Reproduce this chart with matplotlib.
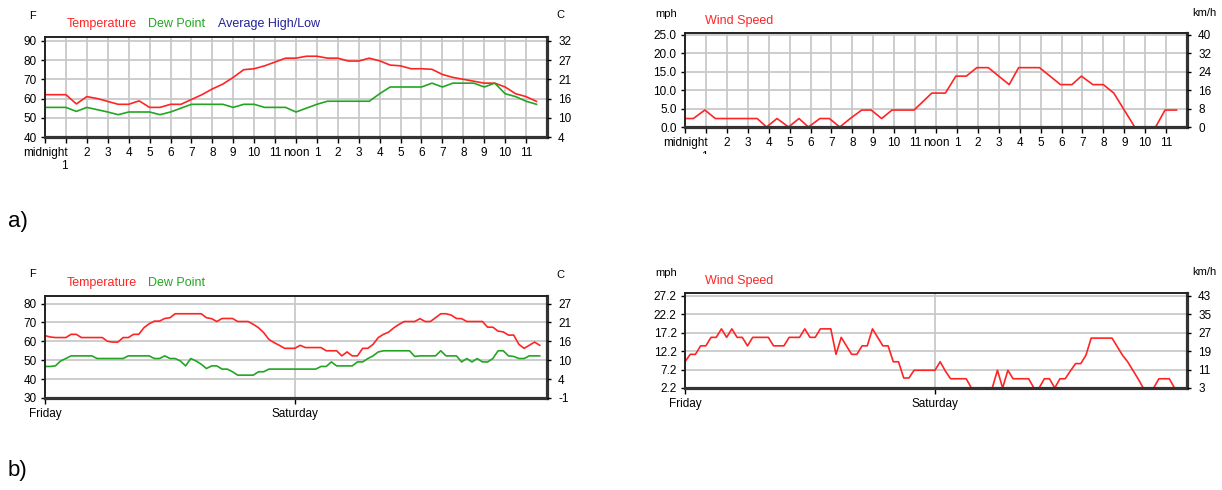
import numpy as np
import matplotlib
matplotlib.use("Agg")
import matplotlib.pyplot as plt
from matplotlib.transforms import Bbox

# ---- data ----
# a) one day, hours since midnight
a_hours = [0, 0.5, 1, 1.5, 2, 2.5, 3, 3.5, 4, 4.5, 5, 5.5, 6, 6.5, 7, 7.5,
           8, 8.5, 9, 9.5, 10, 10.5, 11, 11.5, 12, 12.5, 13, 13.5, 14, 14.5,
           15, 15.5, 16, 16.5, 17, 17.5, 18, 18.5, 19, 19.5, 20, 20.5, 21,
           21.5, 22, 22.5, 23, 23.5]
a_temp = [62, 62, 62, 57.2, 61, 60, 58.5, 57, 57, 58.8, 55.4, 55.4, 57, 57,
          59.5, 62, 65, 67.5, 71, 75, 75.5, 77, 79, 81, 81, 82, 82, 81, 81,
          79.5, 79.5, 81, 79.6, 77.4, 77, 75.5, 75.5, 75.2, 72.5, 71, 70, 69,
          68, 68, 66, 62.5, 61, 58.5]
a_dew = [55.4, 55.4, 55.4, 53.3, 55.4, 54.2, 53, 51.6, 53, 53, 53, 51.6, 53,
         55, 57, 57, 57, 57, 55.4, 57, 57, 55.4, 55.4, 55.4, 53, 55, 57, 58.6,
         58.6, 58.6, 58.6, 58.6, 62.5, 66, 66, 66, 66, 68, 66, 68, 68, 68, 66,
         68, 62.5, 61, 58.6, 57]

a_wind_hours = [0, 0.4, 0.95, 1.45, 3.45, 3.9, 4.4, 4.95, 5.45, 5.9, 6.45,
                6.9, 7.4, 7.9, 8.45, 8.9, 9.4, 9.9, 10.95, 11.8, 12.45, 12.95,
                13.45, 13.95, 14.5, 15.5, 15.95, 16.95, 17.95, 18.5, 18.95,
                19.5, 20, 20.5, 21, 21.5, 22.5, 22.95, 23.5]
a_wind = [2.3, 2.3, 4.6, 2.3, 2.3, 0, 2.3, 0, 2.3, 0, 2.3, 2.3, 0, 2.3, 4.6,
          4.6, 2.3, 4.6, 4.6, 9.2, 9.2, 13.8, 13.8, 16.1, 16.1, 11.5, 16.1,
          16.1, 11.5, 11.5, 13.8, 11.5, 11.5, 9.2, 4.6, 0, 0, 4.6, 4.6]

# hour 1 sits on a second line under "midnight" (added separately below)
a_xlabels = ["midnight", "", "2", "3", "4", "5", "6", "7", "8", "9", "10",
             "11", "noon", "1", "2", "3", "4", "5", "6", "7", "8", "9", "10",
             "11"]

# b) two days, Friday + Saturday, half-hourly
b_hours = np.arange(0, 48, 0.5)
b_temp = [63, 62.3, 62, 62, 62, 63.7, 63.7, 62, 62, 62, 62, 62, 60, 59.6,
          59.6, 62, 62, 63.7, 63.7, 67.2, 69.3, 70.7, 70.7, 72.1, 72.5, 74.6,
          74.6, 74.6, 74.6, 74.6, 74.6, 72.5, 72, 70.5, 72.1, 72.1, 72.1, 70.5,
          70.5, 70.5, 69, 67.2, 64.6, 61, 59.3, 57.9, 56.3, 56.3,
          56.3, 57.9, 56.7, 56.7, 56.7, 56.7, 55, 55, 55, 52.3, 54.4, 52.3,
          52.3, 56.3, 56.3, 58.4, 62, 63.7, 64.9, 67.2, 69, 70.5, 70.5, 70.5,
          72, 70.5, 70.5, 72.5, 74.6, 74.6, 73.9, 72.1, 72, 70.5, 70.5, 70.5,
          70.5, 67.5, 67.5, 65.4, 65, 63.3, 63.3, 58.4, 56.3, 57.9, 59.6, 57.9]
b_dew = [46.7, 46.7, 47, 49.6, 50.9, 52.3, 52.3, 52.3, 52.3, 52.3, 50.9, 50.9,
         50.9, 50.9, 50.9, 50.9, 52.3, 52.3, 52.3, 52.3, 52.3, 50.9, 50.9,
         52.3, 50.9, 50.9, 49.6, 47, 50.9, 49.6, 47.9, 45.6, 47, 47, 45.3,
         45.3, 43.9, 42.1, 42.1, 42.1, 42.1, 43.9, 43.9, 45.3, 45.3, 45.3,
         45.3, 45.3,
         45.3, 45.3, 45.3, 45.3, 45.3, 46.7, 46.7, 49.1, 47, 47, 47, 47, 49.1,
         49.1, 50.9, 52.3, 54.4, 55, 55, 55, 55, 55, 55, 52, 52.3, 52.3, 52.3,
         52.3, 55, 52.3, 52.3, 52.3, 49.1, 50.9, 49.1, 50.9, 49.1, 49.1, 50.9,
         55, 55, 52.3, 52, 50.9, 50.9, 52.3, 52.3, 52.3]
b_wind = [9.3, 11.3, 11.3, 13.6, 13.6, 15.9, 15.9, 18.2, 15.9, 18.2, 15.9,
          15.9, 13.6, 15.9, 15.9, 15.9, 15.9, 13.6, 13.6, 13.6, 15.9, 15.9,
          15.9, 18.2, 15.9, 15.9, 18.2, 18.2, 18.2, 11.3, 15.9, 13.6, 11.3,
          11.3, 13.6, 13.6, 18.2, 15.9, 13.6, 13.6, 9.3, 9.3, 4.9, 4.9, 7.0,
          7.0, 7.0, 7.0,
          7.0, 9.3, 6.8, 4.7, 4.7, 4.7, 4.7, 2.2, 2.2, 2.2, 2.2, 2.2, 7.0, 2.2,
          7.0, 4.7, 4.7, 4.7, 4.7, 2.2, 2.2, 4.7, 4.7, 2.2, 4.7, 4.7, 6.8, 8.8,
          8.8, 11.1, 15.7, 15.7, 15.7, 15.7, 15.7, 13.4, 11.1, 9.3, 7.0, 4.7,
          2.2, 2.2, 2.2, 4.7, 4.7, 4.7, 2.2, 2.2]

b_xticks = [0, 24]
b_xlabels = ["Friday", "Saturday"]

a_temp_ticks = [40, 50, 60, 70, 80, 90]
a_temp_c = ["4", "10", "16", "21", "27", "32"]
a_wind_ticks = [0, 5, 10, 15, 20, 25]
a_wind_l = ["0.0", "5.0", "10.0", "15.0", "20.0", "25.0"]
a_wind_r = ["0", "8", "16", "24", "32", "40"]
b_temp_ticks = [30, 40, 50, 60, 70, 80]
b_temp_c = ["-1", "4", "10", "16", "21", "27"]
b_wind_ticks = [2.2, 7.2, 12.2, 17.2, 22.2, 27.2]
b_wind_l = ["2.2", "7.2", "12.2", "17.2", "22.2", "27.2"]
b_wind_r = ["3", "11", "19", "27", "35", "43"]

# ---- style ----
RED = "#ff2424"
GREEN = "#22a622"
NAVY = "#22229c"
GRID = "#c9c9c9"

plt.rcParams["font.family"] = ["Liberation Sans", "DejaVu Sans"]
plt.rcParams["font.size"] = 8.5

W, H = 1222, 490
fig = plt.figure(figsize=(W / 100, H / 100), dpi=100)


def box(x0, y0, x1, y1):
    return [x0 / W, 1 - y1 / H, (x1 - x0) / W, (y1 - y0) / H]


def label(x, y, s, **kw):
    return fig.text(x / W, 1 - y / H, s, va="center", **kw)


def panel(rect, xlim, ylim, yticks, ylab, ylab_r, xticks, xlabels):
    ax = fig.add_axes(rect)
    ax.set_xlim(xlim)
    ax.set_ylim(ylim)
    ax.set_yticks(yticks, ylab)
    ax.set_xticks(xticks, xlabels)
    ax.grid(color=GRID, lw=1.3)
    ax.set_axisbelow(True)
    for side in ["left", "top"]:
        ax.spines[side].set_linewidth(1.4)
        ax.spines[side].set_color("#222222")
    for side in ["right", "bottom"]:
        ax.spines[side].set_linewidth(2.3)
        ax.spines[side].set_color("#333333")
    ax.tick_params(axis="y", length=3, width=1, pad=3)
    ax.tick_params(axis="x", length=4, width=1, pad=3)
    ax2 = ax.twinx()
    ax2.set_ylim(ylim)
    ax2.set_yticks(yticks, ylab_r)
    ax2.tick_params(axis="y", length=3, width=1, pad=5)
    for s in ax2.spines.values():
        s.set_visible(False)
    return ax


# a) temperature
ax = panel(box(45, 37, 547, 137), (0, 24), (40, 92), a_temp_ticks,
           [str(v) for v in a_temp_ticks], a_temp_c, range(24), a_xlabels)
ax.plot(a_hours, a_temp, color=RED, lw=1.2)
ax.plot(a_hours, a_dew, color=GREEN, lw=1.2)
label(64, 166, "1", ha="center")
label(33, 16, "F", ha="center", fontsize=8)
label(556, 15, "C", ha="left", fontsize=8)
label(67, 24, "Temperature", color=RED, fontsize=9)
label(148, 24, "Dew Point", color=GREEN, fontsize=9)
label(218, 24, "Average High/Low", color=NAVY, fontsize=9)

# a) wind
ax = panel(box(685, 33, 1187, 127), (0, 24), (0, 25.5), a_wind_ticks,
           a_wind_l, a_wind_r, range(24), a_xlabels)
ax.plot(a_wind_hours, a_wind, color=RED, lw=1.2)
one = label(704, 157, "1", ha="center")
one.set_clip_box(Bbox([[690, H - 154], [720, H - 140]]))
one.set_clip_on(True)
label(655, 14, "mph", ha="left", fontsize=8)
label(1192, 13, "km/h", ha="left", fontsize=8)
label(705, 21, "Wind Speed", color=RED, fontsize=9)

# b) temperature
ax = panel(box(45, 296, 547, 398), (0, 48.2), (30, 84), b_temp_ticks,
           [str(v) for v in b_temp_ticks], b_temp_c, b_xticks, b_xlabels)
ax.plot(b_hours, b_temp, color=RED, lw=1.2)
ax.plot(b_hours, b_dew, color=GREEN, lw=1.2)
label(33, 274, "F", ha="center", fontsize=8)
label(556, 275, "C", ha="left", fontsize=8)
label(67, 283, "Temperature", color=RED, fontsize=9)
label(148, 283, "Dew Point", color=GREEN, fontsize=9)

# b) wind
ax = panel(box(685, 293, 1187, 388), (0, 48.2), (2.2, 27.9), b_wind_ticks,
           b_wind_l, b_wind_r, b_xticks, b_xlabels)
ax.plot(b_hours, b_wind, color=RED, lw=1.2)
label(655, 273, "mph", ha="left", fontsize=8)
label(1192, 272, "km/h", ha="left", fontsize=8)
label(705, 281, "Wind Speed", color=RED, fontsize=9)

label(8, 221, "a)", ha="left", fontsize=16)
label(8, 470, "b)", ha="left", fontsize=16)

fig.savefig("out.png", dpi=100)
